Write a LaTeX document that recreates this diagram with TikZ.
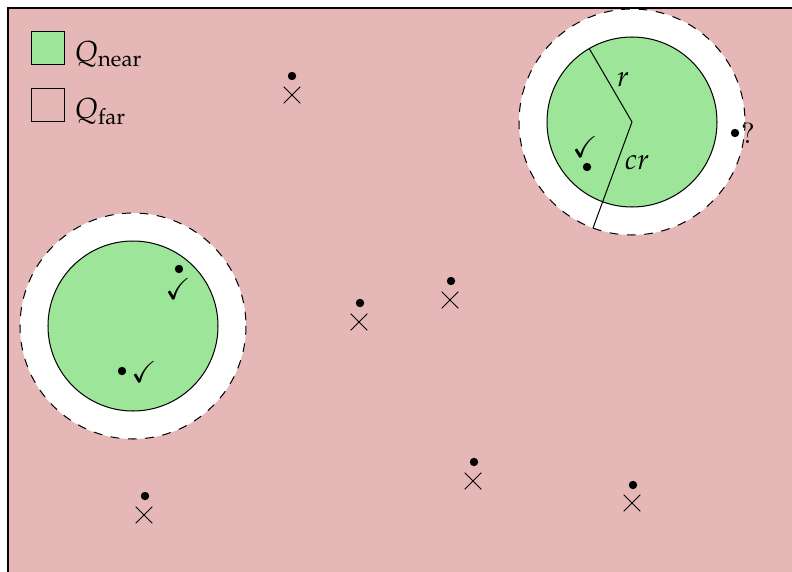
\documentclass[tikz,border=0pt]{standalone}
\usepackage{amssymb}
\usepackage{mathpazo}
\usetikzlibrary{shapes.misc}
\definecolor{bgpink}{RGB}{230,183,183}
\definecolor{neargreen}{RGB}{157,229,152}
\begin{document}
\begin{tikzpicture}[x=0.345pt,y=-0.345pt,
  dotpt/.style={circle,fill=black,inner sep=0pt,minimum size=2.9pt},
  xmark/.style={cross out,draw=black,line width=0.35pt,inner sep=0pt,minimum size=5.4pt},
  chk/.style={inner sep=0pt},
  outerring/.style={draw=black,dashed,line width=0.35pt,fill=white},
  innerdisk/.style={draw=black,line width=0.35pt,fill=neargreen},
  legbox/.style={draw=black,line width=0.35pt,minimum size=11.7pt,inner sep=0pt}]
\useasboundingbox (0,0) rectangle (792,571);
\clip (0,0) rectangle (792,571);
\fill[bgpink] (8,8) rectangle (800,580);
\draw[line width=0.4pt] (800,8) -- (8,8) -- (8,580);
% legend
\node[legbox,fill=neargreen] (lnear) at (48,48) {};
\node[legbox] (lfar) at (48,105) {};
\node[anchor=base west,inner sep=0pt] (tnear) at (74,62) {$Q_{\mathrm{near}}$};
\node[anchor=base west,inner sep=0pt] (tfar) at (74,118) {$Q_{\mathrm{far}}$};
% top-right cluster
\coordinate (c1) at (632,122);
\draw[outerring] (c1) circle (113);
\draw[innerdisk] (c1) circle (85);
\draw[line width=0.35pt] (c1) -- ++(-120.2:85) coordinate (rend);
\draw[line width=0.35pt] (c1) -- ++(110.2:113) coordinate (crend);
\node (lr) at (623,80) {$r$};
\node (lcr) at (637,163) {$cr$};
\node[dotpt] (p1) at (587,167) {};
\node[chk] (k1) at (585,147) {\checkmark};
\node[dotpt] (p2) at (735,133) {};
\node[inner sep=0pt] (q2) at (748,133) {?};
% left cluster
\coordinate (c2) at (133,326);
\draw[outerring] (c2) circle (113);
\draw[innerdisk] (c2) circle (85);
\node[dotpt] (p3) at (179,269) {};
\node[chk] (k3) at (178,289) {\checkmark};
\node[dotpt] (p4) at (122,371) {};
\node[chk] (k4) at (144,372) {\checkmark};
% dot/cross pairs
\node[dotpt] (d1) at (292,76) {};   \node[xmark] (x1) at (292,95) {};
\node[dotpt] (d2) at (360,303) {};  \node[xmark] (x2) at (359,322) {};
\node[dotpt] (d3) at (451,281) {};  \node[xmark] (x3) at (450,300) {};
\node[dotpt] (d4) at (474,462) {};  \node[xmark] (x4) at (473,481) {};
\node[dotpt] (d5) at (633,485) {};  \node[xmark] (x5) at (632,503) {};
\node[dotpt] (d6) at (145,496) {};  \node[xmark] (x6) at (144,515) {};
\end{tikzpicture}
\end{document}
